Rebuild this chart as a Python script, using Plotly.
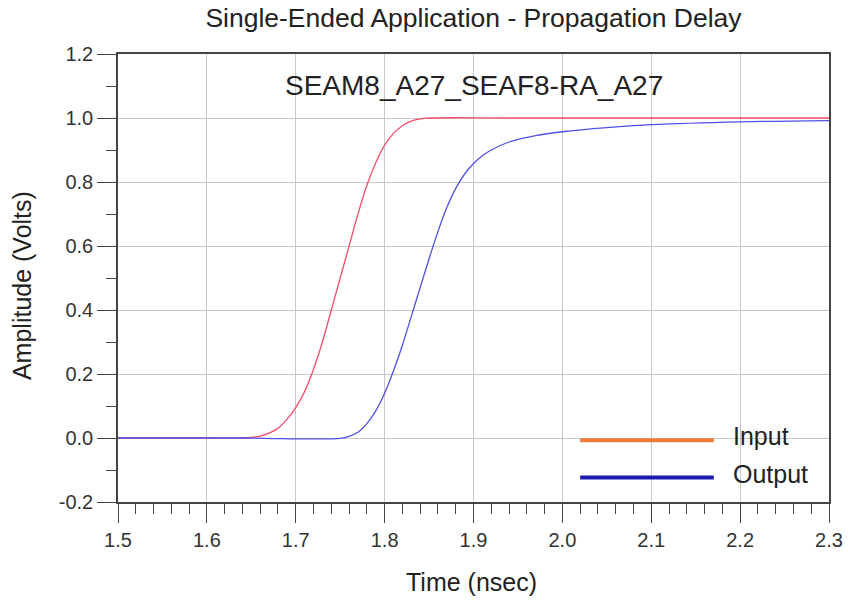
import plotly.graph_objects as go

# waveform samples (time in nsec, amplitude in volts)
t_in = [1.50, 1.60, 1.64, 1.66, 1.68, 1.69, 1.70, 1.71, 1.72, 1.73, 1.74, 1.75,
        1.76, 1.77, 1.78, 1.79, 1.80, 1.81, 1.82, 1.83, 1.84, 1.85, 1.95, 2.30]
v_in = [0.0, 0.0, 0.0, 0.006, 0.03, 0.058, 0.095, 0.145, 0.215, 0.30, 0.40, 0.50,
        0.60, 0.70, 0.79, 0.86, 0.915, 0.952, 0.976, 0.99, 0.997, 1.0, 1.0, 1.0]

t_out = [1.50, 1.64, 1.68, 1.72, 1.75, 1.76, 1.77, 1.78, 1.79, 1.80, 1.81, 1.82,
         1.83, 1.84, 1.85, 1.86, 1.87, 1.88, 1.89, 1.90, 1.91, 1.92, 1.94, 1.97,
         2.00, 2.05, 2.10, 2.20, 2.30]
v_out = [0.0, 0.0, -0.002, -0.003, -0.001, 0.005, 0.018, 0.045, 0.085, 0.14, 0.21, 0.29,
         0.38, 0.47, 0.56, 0.645, 0.72, 0.78, 0.825, 0.858, 0.882, 0.90, 0.925, 0.945,
         0.957, 0.97, 0.979, 0.988, 0.992]

y_ticks = [-0.2, 0.0, 0.2, 0.4, 0.6, 0.8, 1.0, 1.2]
y_ticktext = ["-0.2", "0.0", "0.2", "0.4", "0.6", "0.8", "1.0", "1.2"]

legend_names = ["Input", "Output"]
legend_colors = ["#f07a3a", "#1c1cb4"]

fig = go.Figure()
fig.add_trace(go.Scatter(x=t_in, y=v_in, mode="lines",
                         line=dict(color="#f2506a", width=1.3, shape="spline", smoothing=0.8),
                         name="Input"))
fig.add_trace(go.Scatter(x=t_out, y=v_out, mode="lines",
                         line=dict(color="#5050e6", width=1.3, shape="spline", smoothing=0.8),
                         name="Output"))

# hand drawn legend (long sample lines like the original)
for i, (name, col) in enumerate(zip(legend_names, legend_colors)):
    ly = 0.138 - i * 0.0835
    fig.add_shape(type="line", xref="paper", yref="paper",
                  x0=0.650, x1=0.838, y0=ly, y1=ly,
                  line=dict(color=col, width=4))
    fig.add_annotation(xref="paper", yref="paper", x=0.862, y=ly + 0.009, text=name,
                       showarrow=False, xanchor="left", yanchor="middle",
                       font=dict(size=25, color="#222"))

fig.add_annotation(xref="paper", yref="paper", x=0.5, y=0.929,
                   text="SEAM8_A27_SEAF8-RA_A27", showarrow=False,
                   yanchor="middle", font=dict(size=28, color="#222"))

# axis titles
fig.add_annotation(xref="paper", yref="paper", x=0.497, y=-0.179,
                   text="Time (nsec)", showarrow=False, yanchor="middle",
                   font=dict(size=25, color="#222"))
fig.add_annotation(xref="paper", yref="paper", x=-0.135, y=0.482,
                   text="Amplitude (Volts)", showarrow=False, textangle=-90,
                   xanchor="center", yanchor="middle",
                   font=dict(size=25, color="#222"))

axis_common = dict(showline=True, linecolor="#444", linewidth=1.6, mirror=True,
                   showgrid=True, gridcolor="#c8c8c8", gridwidth=1,
                   zeroline=False, ticks="outside", ticklen=19, tickwidth=1.4,
                   tickcolor="#444", tickfont=dict(size=20, color="#333"),
                   automargin=False)

fig.update_xaxes(range=[1.5, 2.3], dtick=0.1, tickformat=".1f",
                 minor=dict(dtick=0.02, ticks="outside", ticklen=10,
                            tickcolor="#444", showgrid=False),
                 **axis_common)
fig.update_yaxes(range=[-0.2, 1.2], tickvals=y_ticks, ticktext=y_ticktext,
                 minor=dict(dtick=0.1, ticks="outside", ticklen=10,
                            tickcolor="#444", showgrid=False),
                 **axis_common)

fig.update_layout(
    width=848, height=600,
    margin=dict(l=118, r=19, t=54, b=98),
    paper_bgcolor="white", plot_bgcolor="white",
    font=dict(family="Liberation Sans, Arial, sans-serif"),
    showlegend=False,
    hovermode=False,
    title=dict(text="Single-Ended Application - Propagation Delay",
               x=0.5, xref="paper", y=0.971, yanchor="middle",
               font=dict(size=26.5, color="#222")),
)

# drop the browser's default 8px body margin so the figure fills the window
fig.write_html("out.html", config={"displayModeBar": False},
               post_script="document.body.style.margin='0';")
